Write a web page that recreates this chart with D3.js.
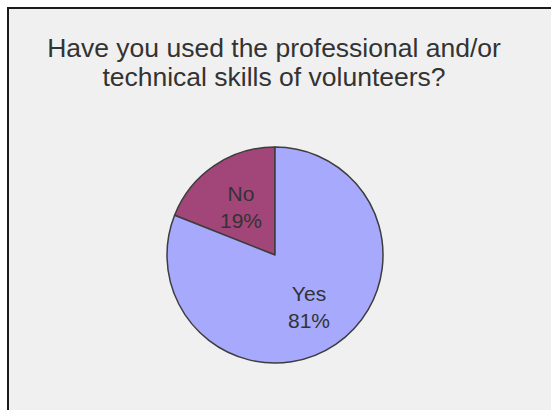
<!DOCTYPE html>
<html>
<head>
<meta charset="utf-8">
<script src="https://cdn.jsdelivr.net/npm/d3@7"></script>
<style>
  html, body { margin: 0; padding: 0; background: #ffffff; }
  svg { display: block; }
</style>
</head>
<body>
<svg id="chart" width="551" height="410"></svg>
<script>
// Survey answers
const categories = ["No", "Yes"];
const percentages = [19, 81];
const sliceColors = ["#a2467a", "#a7a9fd"];
const titleLines = [
  "Have you used the professional and/or",
  "technical skills of volunteers?"
];

const width = 551, height = 410;
const svg = d3.select("#chart");

// Panel with a dark frame on the top and left edges
svg.append("rect")
  .attr("x", 8).attr("y", 8)
  .attr("width", width + 10).attr("height", height + 10)
  .attr("fill", "#f0f0f0")
  .attr("stroke", "#1a1a1a")
  .attr("stroke-width", 2);

// Title
svg.append("g")
  .selectAll("text")
  .data(titleLines)
  .join("text")
  .attr("x", 274)
  .attr("y", (d, i) => 57 + i * 29)
  .attr("text-anchor", "middle")
  .attr("font-family", "'Liberation Sans', Arial, Helvetica, sans-serif")
  .attr("font-size", 26.5)
  .attr("fill", "#333333")
  .text(d => d);

// Pie: starts at 12 o'clock, "No" runs counter-clockwise
const cx = 275, cy = 255, radius = 108;
const data = categories.map((c, i) => ({ label: c, value: percentages[i], color: sliceColors[i] }));

const pie = d3.pie()
  .value(d => d.value)
  .sort(null)
  .startAngle(0)
  .endAngle(-2 * Math.PI);

const arc = d3.arc().innerRadius(0).outerRadius(radius);
const labelArc = d3.arc().innerRadius(radius * 0.56).outerRadius(radius * 0.56);

const g = svg.append("g").attr("transform", `translate(${cx},${cy})`);
const arcs = pie(data);

g.selectAll("path")
  .data(arcs)
  .join("path")
  .attr("d", arc)
  .attr("fill", d => d.data.color)
  .attr("stroke", "#3d3d3d")
  .attr("stroke-width", 1.5)
  .attr("stroke-linejoin", "round");

const labels = g.selectAll("g.label")
  .data(arcs)
  .join("g")
  .attr("class", "label")
  .attr("transform", d => `translate(${labelArc.centroid(d)})`);

labels.append("text")
  .attr("text-anchor", "middle")
  .attr("y", -4)
  .attr("font-family", "'Liberation Sans', Arial, Helvetica, sans-serif")
  .attr("font-size", 21)
  .attr("fill", "#333333")
  .text(d => d.data.label);

labels.append("text")
  .attr("text-anchor", "middle")
  .attr("y", 23)
  .attr("font-family", "'Liberation Sans', Arial, Helvetica, sans-serif")
  .attr("font-size", 21)
  .attr("fill", "#333333")
  .text(d => d.data.value + "%");
</script>
</body>
</html>
